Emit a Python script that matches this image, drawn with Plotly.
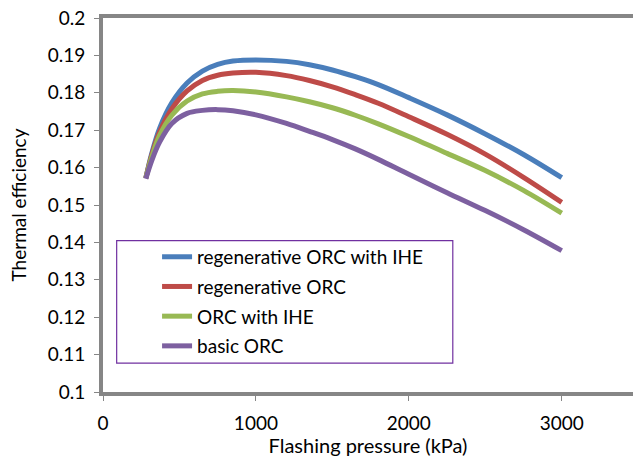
import plotly.graph_objects as go

pressure = [280, 320, 370, 450, 550, 650, 750, 850, 1000, 1200, 1350, 1500, 1650, 1800, 2000, 2250, 2500, 2750, 3000]
regen_ihe = [0.1572, 0.1640, 0.1705, 0.1773, 0.1826, 0.1858, 0.1876, 0.1885, 0.1888, 0.1884, 0.1875, 0.1861, 0.1843, 0.1822, 0.1787, 0.1741, 0.1690, 0.1635, 0.1573]
regen = [0.1572, 0.1635, 0.1695, 0.1757, 0.1805, 0.1833, 0.1847, 0.1853, 0.1855, 0.1846, 0.1833, 0.1816, 0.1795, 0.1772, 0.1736, 0.1689, 0.1636, 0.1574, 0.1507]
orc_ihe = [0.1572, 0.1630, 0.1686, 0.1740, 0.1778, 0.1797, 0.1804, 0.1806, 0.1802, 0.1789, 0.1776, 0.1760, 0.1740, 0.1717, 0.1683, 0.1638, 0.1592, 0.1539, 0.1478]
basic = [0.1570, 0.1620, 0.1668, 0.1718, 0.1745, 0.1753, 0.1755, 0.1752, 0.1741, 0.1718, 0.1697, 0.1675, 0.1650, 0.1622, 0.1582, 0.1533, 0.1485, 0.1434, 0.1378]

names = ["regenerative ORC with IHE", "regenerative ORC", "ORC with IHE", "basic ORC"]
series = [regen_ihe, regen, orc_ihe, basic]
colors = ["#4A7EBB", "#BE4B48", "#98B954", "#7D60A0"]

FONT = "Lato, 'Open Sans', sans-serif"
fig = go.Figure()
for i, (n, s, c) in enumerate(zip(names, series, colors)):
    fig.add_trace(go.Scatter(x=pressure, y=s, name=n, mode="lines",
                             line=dict(color=c, width=5, shape="spline", smoothing=1.0),
                             legendgroup=f"g{i}"))

axis_common = dict(showgrid=False, zeroline=False, showline=True, linecolor="#868686",
                   linewidth=4, ticks="outside", ticklen=5, tickwidth=1, tickcolor="#868686",
                   automargin=False,
                   tickfont=dict(family=FONT, size=19, color="#000000"))

# legend frame (wider than the entries, as in the reference)
fig.add_shape(type="rect", xref="paper", yref="paper", x0=0.0258, x1=0.66, y0=0.077, y1=0.4045,
              line=dict(color="#7030A0", width=1.2), fillcolor="rgba(0,0,0,0)", layer="above")

fig.update_layout(
    width=633, height=457,
    margin=dict(l=103, r=0, t=18, b=65),
    paper_bgcolor="white", plot_bgcolor="white",
    showlegend=True,
    legend=dict(x=0.102, y=0.412, xanchor="left", yanchor="top",
                borderwidth=0, bgcolor="rgba(0,0,0,0)",
                font=dict(family=FONT, size=19, color="#000000"),
                tracegroupgap=2, itemwidth=30),
    xaxis=dict(range=[0, 3466], tickvals=[0, 1000, 2000, 3000], mirror=True,
               ticklabelstandoff=6,
               title=dict(text="Flashing pressure (kPa)", font=dict(family=FONT, size=20, color="#000000"), standoff=6),
               **axis_common),
    yaxis=dict(range=[0.1, 0.2], dtick=0.01, tickformat="~g", ticklabelstandoff=5,
               title=dict(text="Thermal efficiency", font=dict(family=FONT, size=19, color="#000000"), standoff=17),
               **axis_common),
)

fig.write_html("out.html", config={"displayModeBar": False},
               post_script="document.body.style.margin='0';document.body.style.overflow='hidden';")
